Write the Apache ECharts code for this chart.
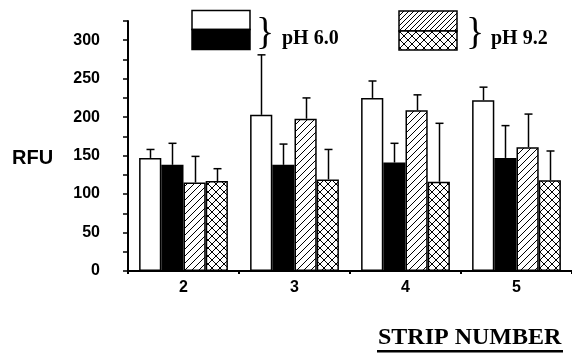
<!DOCTYPE html>
<html>
<head>
<meta charset="utf-8">
<script src="https://cdn.jsdelivr.net/npm/echarts@6/dist/echarts.min.js"></script>
<style>
  html, body { margin: 0; padding: 0; background: #fff; }
  #chart { width: 572px; height: 353px; }
</style>
</head>
<body>
<div id="chart"></div>
<script>
  // data
  const strips = ['2', '3', '4', '5']
  const ph60White = [147, 203, 225, 222]
  const ph60WhiteErr = [158, 281, 247, 239]
  const ph60Black = [138, 138, 141, 147]
  const ph60BlackErr = [166, 165, 166, 189]
  const ph92Hatch = [115, 198, 209, 161]
  const ph92HatchErr = [149, 225, 229, 204]
  const ph92Cross = [117, 119, 116, 118]
  const ph92CrossErr = [133, 158, 192, 156]
  const yTicks = [0, 50, 100, 150, 200, 250, 300]

  // fill patterns
  function makePattern(size, both) {
    const c = document.createElement('canvas')
    c.width = size
    c.height = size
    const g = c.getContext('2d')
    g.fillStyle = '#fff'
    g.fillRect(0, 0, size, size)
    g.strokeStyle = '#000'
    g.lineWidth = 1
    g.beginPath()
    g.moveTo(0, size); g.lineTo(size, 0)
    g.moveTo(-1, 1); g.lineTo(1, -1)
    g.moveTo(size - 1, size + 1); g.lineTo(size + 1, size - 1)
    if (both) {
      g.moveTo(0, 0); g.lineTo(size, size)
      g.moveTo(-1, size - 1); g.lineTo(1, size + 1)
      g.moveTo(size - 1, -1); g.lineTo(size + 1, 1)
    }
    g.stroke()
    return c
  }
  const hatch = { image: makePattern(7, false), repeat: 'repeat' }
  const cross = { image: makePattern(8, true), repeat: 'repeat' }
  const hatchSmall = { image: makePattern(5, false), repeat: 'repeat' }

  const chart = echarts.init(document.getElementById('chart'))

  const barSeries = (name, data, fill) => ({
    name: name,
    type: 'bar',
    data: data,
    barGap: '0%',
    barCategoryGap: '20%',
    itemStyle: { color: fill, borderColor: '#000', borderWidth: 1.5 },
    animation: false
  })

  // error bars, up only, drawn through the axis scales
  const errSeries = (k, means, ups) => ({
    type: 'custom',
    z: 5,
    animation: false,
    data: means.map((m, i) => [i, m, ups[i]]),
    encode: { x: 0, y: [1, 2] },
    renderItem: function (params, api) {
      const catW = api.size([1, 0])[0]
      const barW = catW * 0.8 / 4
      const base = api.coord([api.value(0), 0])
      const x = Math.round(base[0] - catW * 0.4 + barW * (k + 0.5)) + 0.5
      const yTop = api.coord([api.value(0), api.value(1)])[1]
      const yUp = api.coord([api.value(0), api.value(2)])[1]
      const st = { stroke: '#000', lineWidth: 1.5 }
      return {
        type: 'group',
        children: [
          { type: 'line', shape: { x1: x, y1: yTop, x2: x, y2: yUp }, style: st },
          { type: 'line', shape: { x1: x - 4, y1: yUp, x2: x + 4, y2: yUp }, style: st }
        ]
      }
    }
  })

  const serif = 'Liberation Serif'
  const sans = 'Liberation Sans'

  chart.setOption({
    animation: false,
    grid: { left: 128, right: 0, top: 21, bottom: 82 },
    xAxis: {
      type: 'category',
      data: strips,
      axisLine: { lineStyle: { color: '#000', width: 2 } },
      axisTick: { show: true, length: 3, lineStyle: { color: '#000', width: 2 } },
      axisLabel: { color: '#000', fontFamily: sans, fontWeight: 'bold', fontSize: 16, margin: 9 }
    },
    yAxis: {
      type: 'value',
      min: 0,
      max: 325,
      interval: 25,
      axisLine: { show: true, lineStyle: { color: '#000', width: 2 } },
      axisTick: { show: true, length: 5, lineStyle: { color: '#000', width: 1.5 } },
      splitLine: { show: false },
      axisLabel: {
        color: '#000', fontFamily: sans, fontWeight: 'bold', fontSize: 16, margin: 28,
        formatter: v => (yTicks.indexOf(v) >= 0 ? String(v) : '')
      }
    },
    graphic: [
      { type: 'text', x: 12, y: 158, style: { text: 'RFU', fill: '#000', font: 'bold 20px ' + sans, verticalAlign: 'middle' } },
      // legend box pH 6.0
      { type: 'rect', shape: { x: 192, y: 10.5, width: 58, height: 19 }, style: { fill: '#fff', stroke: '#000', lineWidth: 1.5 } },
      { type: 'rect', shape: { x: 192, y: 29.5, width: 58, height: 20 }, style: { fill: '#000', stroke: '#000', lineWidth: 1.5 } },
      { type: 'text', x: 265, y: 34, style: { text: '}', fill: '#000', font: '38px ' + serif, align: 'center', verticalAlign: 'middle' } },
      { type: 'text', x: 282, y: 38.5, style: { text: 'pH 6.0', fill: '#000', font: 'bold 20px ' + serif, verticalAlign: 'middle' } },
      // legend box pH 9.2
      { type: 'rect', shape: { x: 399, y: 11, width: 58, height: 20 }, style: { fill: hatchSmall, stroke: '#000', lineWidth: 1.5 } },
      { type: 'rect', shape: { x: 399, y: 31, width: 58, height: 19 }, style: { fill: cross, stroke: '#000', lineWidth: 1.5 } },
      { type: 'text', x: 475, y: 34, style: { text: '}', fill: '#000', font: '38px ' + serif, align: 'center', verticalAlign: 'middle' } },
      { type: 'text', x: 491, y: 38.5, style: { text: 'pH 9.2', fill: '#000', font: 'bold 20px ' + serif, verticalAlign: 'middle' } },
      // axis title
      { type: 'text', x: 378, y: 338, style: { text: 'STRIP NUMBER', fill: '#000', font: 'bold 24px ' + serif, verticalAlign: 'middle' } },
      { type: 'rect', shape: { x: 377, y: 350, width: 186, height: 2.5 }, style: { fill: '#000' } }
    ],
    series: [
      barSeries('pH 6.0 a', ph60White, '#fff'),
      barSeries('pH 6.0 b', ph60Black, '#000'),
      barSeries('pH 9.2 a', ph92Hatch, hatch),
      barSeries('pH 9.2 b', ph92Cross, cross),
      errSeries(0, ph60White, ph60WhiteErr),
      errSeries(1, ph60Black, ph60BlackErr),
      errSeries(2, ph92Hatch, ph92HatchErr),
      errSeries(3, ph92Cross, ph92CrossErr)
    ]
  })
</script>
</body>
</html>
